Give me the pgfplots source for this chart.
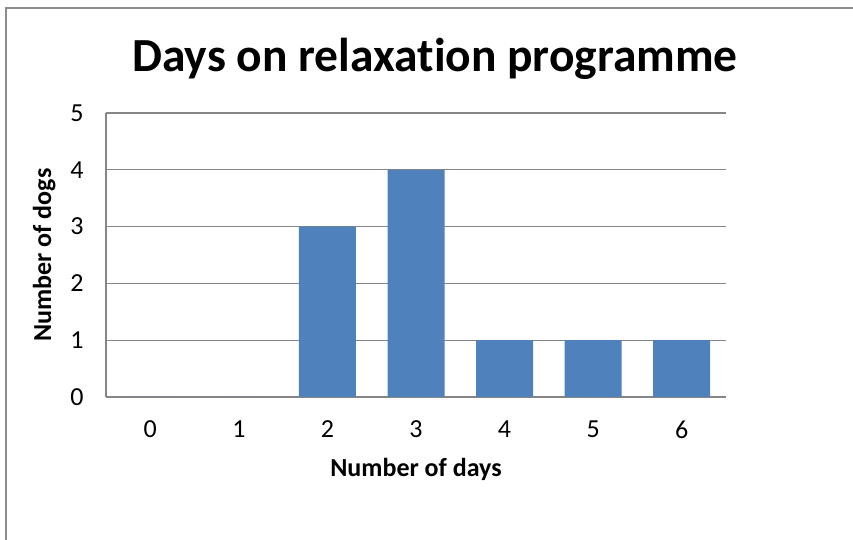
\documentclass[border=0pt]{standalone}
\usepackage{fontspec}
\setmainfont{Carlito}[Ligatures=NoCommon]
\usepackage{pgfplots}
\pgfplotsset{compat=1.18}
\definecolor{barblue}{RGB}{79,129,189}
\definecolor{gridgray}{RGB}{134,134,134}
\definecolor{framegray}{RGB}{140,140,140}
\begin{document}
\begin{tikzpicture}[x=1pt,y=1pt]
\useasboundingbox (0,0) rectangle (853,540);
\draw[framegray, line width=1.5pt] (6,0) -- (6,532) -- (853,532);
\node[font=\fontsize{47.5}{56}\selectfont\bfseries, anchor=base] at (435,468) {Days on relaxation programme};
\begin{axis}[
  at={(106pt,143pt)}, anchor=south west,
  width=620pt, height=284pt, scale only axis,
  xmin=-0.5, xmax=6.5, ymin=0, ymax=5,
  xtick={0,1,2,3,4,5,6}, ytick={0,1,2,3,4,5},
  major tick length=0pt,
  axis x line*=bottom, axis y line*=left,
  axis line style={gridgray, line width=1.3pt, -},
  ymajorgrids, grid style={gridgray, line width=1.3pt},
  /pgf/number format/assume math mode=true,
  ticklabel style={font=\fontsize{26}{31}\selectfont},
  yticklabel style={anchor=east, xshift=-19pt},
  xticklabel style={anchor=north, yshift=-20pt},
  ybar, bar width=57pt,
  clip=false,
]
\addplot[fill=barblue, draw=none] coordinates {(0,0) (1,0) (2,3) (3,4) (4,1) (5,1) (6,1)};
\end{axis}
\node[font=\fontsize{26}{31}\selectfont\bfseries, anchor=base] at (416,63) {Number of days};
\node[font=\fontsize{26}{31}\selectfont\bfseries, anchor=base, rotate=90] at (51,285) {Number of dogs};
\end{tikzpicture}
\end{document}
